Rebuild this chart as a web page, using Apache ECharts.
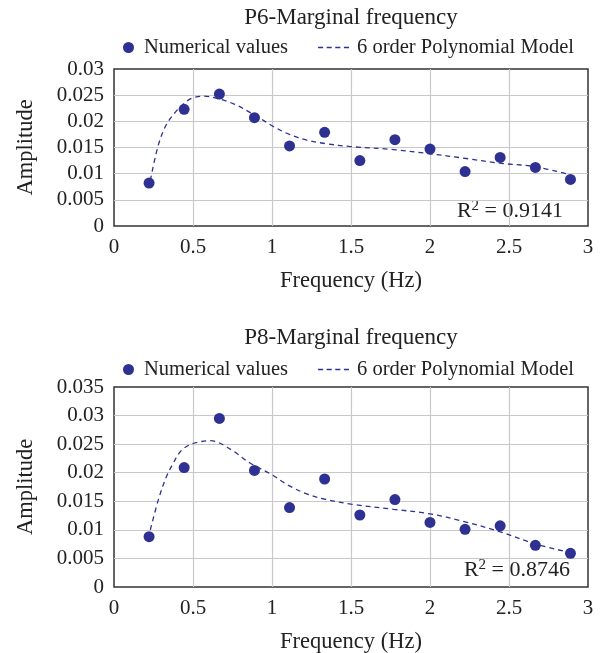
<!DOCTYPE html>
<html lang="en">
<head>
  <meta charset="UTF-8">
  <title>Marginal frequency</title>
  <style>
    * { margin: 0; padding: 0; box-sizing: border-box; }
    body { background: #fff; width: 600px; height: 653px; overflow: hidden; }
    .chart { position: absolute; left: 0; width: 600px; }
  </style>
</head>
<body>
  <div id="p6" class="chart" style="top:0; height:320px;"></div>
  <div id="p8" class="chart" style="top:320px; height:333px;"></div>

  <script src="https://cdn.jsdelivr.net/npm/echarts@6/dist/echarts.min.js"></script>
  <script>
    // frequency of the numerical points (Hz)
    const freq = [0.222, 0.444, 0.667, 0.889, 1.111, 1.333, 1.556, 1.778, 2.0, 2.222, 2.444, 2.667, 2.889];

    // P6
    const p6Values = [0.0082, 0.0223, 0.0252, 0.0207, 0.0153, 0.0179, 0.0125, 0.0165, 0.0147, 0.0104, 0.0131, 0.0112, 0.0089];
    const p6FitX = [0.23, 0.28, 0.33, 0.39, 0.45, 0.50, 0.57, 0.64, 0.76, 0.89, 1.01, 1.11, 1.22, 1.35, 1.49, 1.77, 2.0, 2.23, 2.44, 2.65, 2.89];
    const p6FitY = [0.0087, 0.0154, 0.0193, 0.0218, 0.0236, 0.0245, 0.0248, 0.0245, 0.0233, 0.0212, 0.0190, 0.0175, 0.0164, 0.0157, 0.0152, 0.0146, 0.0138, 0.0129, 0.0120, 0.0114, 0.0098];

    // P8
    const p8Values = [0.0088, 0.0209, 0.0295, 0.0204, 0.0139, 0.0189, 0.0126, 0.0153, 0.0113, 0.0101, 0.0107, 0.0073, 0.0059];
    const p8FitX = [0.23, 0.28, 0.33, 0.37, 0.42, 0.48, 0.54, 0.61, 0.66, 0.76, 0.86, 0.99, 1.11, 1.22, 1.33, 1.50, 1.77, 2.0, 2.21, 2.44, 2.66, 2.89];
    const p8FitY = [0.0100, 0.0152, 0.0192, 0.0214, 0.0237, 0.0249, 0.0254, 0.0256, 0.0253, 0.0237, 0.0217, 0.0198, 0.0177, 0.0163, 0.0154, 0.0145, 0.0136, 0.0128, 0.0115, 0.0097, 0.0076, 0.0060];

    const xTicks = { min: 0, max: 3, interval: 0.5 };

    const FONT = '"Liberation Serif", "DejaVu Serif", serif';
    const INK = '#222';
    const BLUE = '#2E3192';
    const GRIDLINE = { show: true, showMinLine: false, showMaxLine: false, lineStyle: { color: '#c8c8c8', width: 1.2 } };
    // short dashed stroke used as the legend sample of the fitted curve
    const DASH_ICON = 'path://M0,0h5v1.3h-5z M8.5,0h5v1.3h-5z M17,0h5v1.3h-5z M25.5,0h5v1.3h-5z';

    const zip = (xs, ys) => xs.map((x, i) => [x, ys[i]]);

    function makeOption(o) {
      const legendText = { fontFamily: FONT, fontSize: 20.5, color: INK };
      return {
        animation: false,
        textStyle: { fontFamily: FONT, color: INK },
        title: {
          text: o.title,
          left: 351,
          textAlign: 'center',
          top: o.titleTop,
          padding: 0,
          textStyle: { fontFamily: FONT, fontSize: 23, fontWeight: 'normal', color: INK }
        },
        // two legends so the dot and the dashed sample sit where the original has them
        legend: [
          {
            left: 123, top: o.legendTop, padding: 0,
            itemWidth: 11, itemHeight: 11,
            textStyle: { ...legendText, padding: [0, 0, 0, 5] },
            data: [{ name: 'Numerical values', icon: 'circle' }]
          },
          {
            left: 318, top: o.legendTop, padding: 0,
            itemWidth: 31, itemHeight: 11,
            textStyle: { ...legendText, padding: [0, 0, 0, 3] },
            data: [{ name: '6 order Polynomial Model', icon: DASH_ICON, itemStyle: { color: BLUE } }]
          }
        ],
        grid: {
          left: 114, right: 12, top: o.gridTop, bottom: o.gridBottom,
          outerBoundsMode: 'none',
          show: true, borderColor: '#333', borderWidth: 1.5, backgroundColor: 'transparent'
        },
        xAxis: {
          type: 'value',
          min: xTicks.min, max: xTicks.max, interval: xTicks.interval,
          name: 'Frequency (Hz)',
          nameLocation: 'middle',
          nameGap: 44,
          nameTextStyle: { fontFamily: FONT, fontSize: 22.5, color: INK },
          axisLine: { show: false },
          axisTick: { show: false },
          axisLabel: { fontFamily: FONT, fontSize: 21, color: INK, margin: 11 },
          splitLine: GRIDLINE
        },
        yAxis: {
          type: 'value',
          min: 0, max: o.yMax, interval: 0.005,
          name: 'Amplitude',
          nameLocation: 'middle',
          nameGap: 76,
          nameTextStyle: { fontFamily: FONT, fontSize: 22.5, color: INK },
          axisLine: { show: false },
          axisTick: { show: false },
          axisLabel: { fontFamily: FONT, fontSize: 21, color: INK, margin: 10 },
          splitLine: GRIDLINE
        },
        graphic: [{
          type: 'text',
          right: o.r2Right,
          top: o.r2Top,
          style: {
            text: '{a|R}{s|2}{a| = ' + o.r2 + '}',
            fill: INK,
            rich: {
              a: { fontFamily: FONT, fontSize: 22, lineHeight: 24, fill: INK },
              s: { fontFamily: FONT, fontSize: 15, lineHeight: 15, verticalAlign: 'top', fill: INK }
            }
          }
        }],
        series: [
          {
            name: 'Numerical values',
            type: 'scatter',
            data: zip(freq, o.values),
            symbolSize: 11,
            itemStyle: { color: BLUE, opacity: 1 },
            z: 3
          },
          {
            name: '6 order Polynomial Model',
            type: 'line',
            data: zip(o.fitX, o.fitY),
            smooth: 0.35,
            symbol: 'none',
            lineStyle: { color: BLUE, width: 1.3, type: [5, 4] },
            itemStyle: { color: BLUE },
            z: 2
          }
        ]
      };
    }

    const chartP6 = echarts.init(document.getElementById('p6'));
    chartP6.setOption(makeOption({
      title: 'P6-Marginal frequency', titleTop: 6, legendTop: 37,
      gridTop: 69, gridBottom: 94, yMax: 0.03,
      values: p6Values, fitX: p6FitX, fitY: p6FitY,
      r2: '0.9141', r2Top: 199, r2Right: 37
    }));

    const chartP8 = echarts.init(document.getElementById('p8'));
    chartP8.setOption(makeOption({
      title: 'P8-Marginal frequency', titleTop: 6, legendTop: 39,
      gridTop: 67, gridBottom: 66, yMax: 0.035,
      values: p8Values, fitX: p8FitX, fitY: p8FitY,
      r2: '0.8746', r2Top: 238, r2Right: 30
    }));
  </script>
</body>
</html>
